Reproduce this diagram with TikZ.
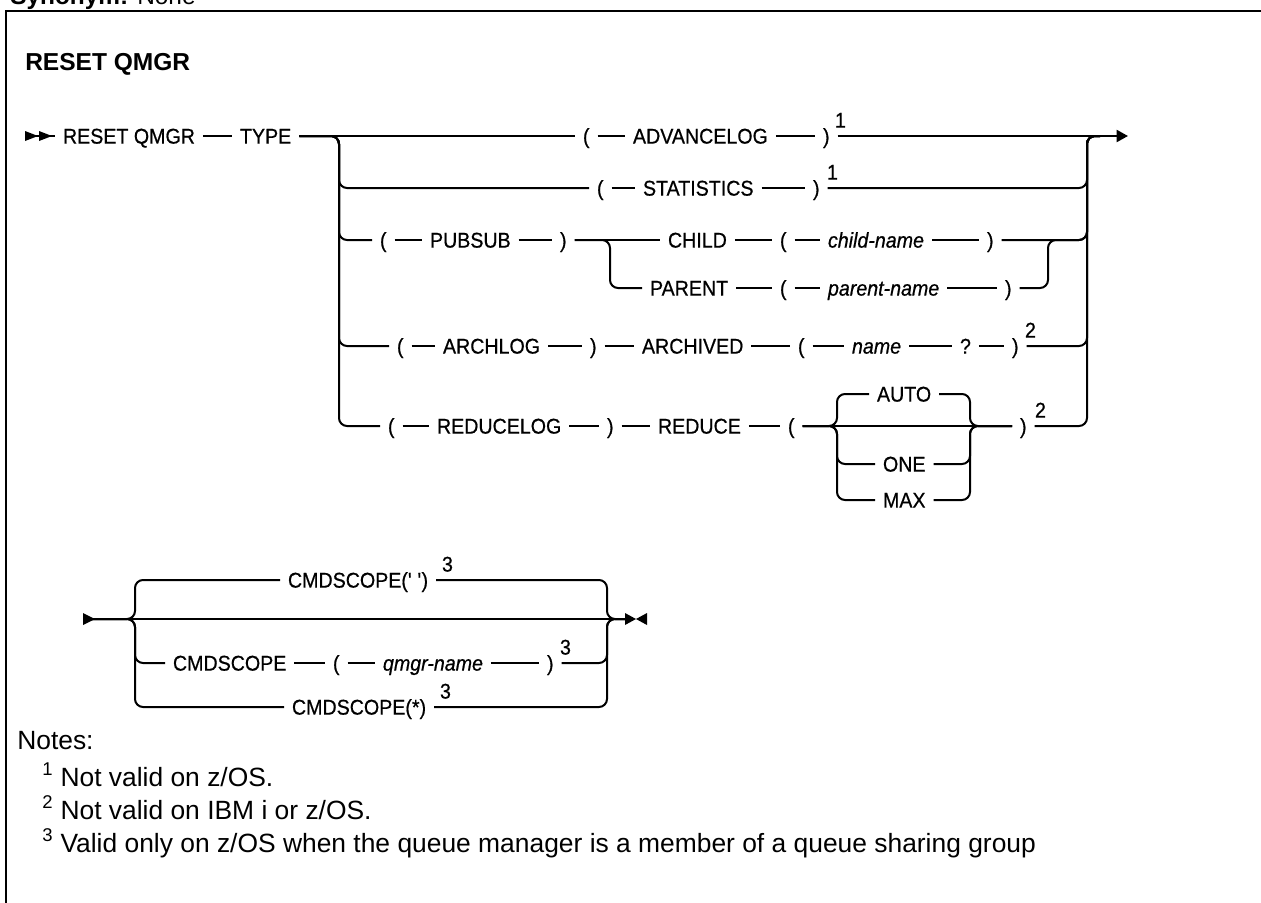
\documentclass[tikz,border=0pt]{standalone}
\usepackage{fontspec}
\setmainfont{Liberation Sans}
\newfontfamily\synfont[FakeStretch=0.92,FakeBold=0.6]{Liberation Sans}
\usetikzlibrary{arrows.meta}
\tikzset{
  syn/.style={font=\synfont\fontsize{16pt}{19pt}\selectfont, inner sep=0pt, outer xsep=6pt, text height=11.4pt, text depth=0pt, anchor=west, xshift=-6pt},
  ital/.style={syn, font=\synfont\fontsize{16pt}{19pt}\selectfont\itshape},
  supn/.style={syn, outer xsep=0pt, xshift=0pt},
  ttl/.style={font=\fontsize{18.4pt}{22pt}\selectfont\bfseries, inner sep=0pt, text height=13.2pt, text depth=0pt, anchor=west},
  note/.style={font=\fontsize{19.8pt}{23pt}\selectfont, inner sep=0pt, anchor=base west},
  rr/.style={line width=1.5pt, rounded corners=6pt},
  boxline/.style={line width=1.5pt},
  endtip/.style={-{Triangle[length=8.5pt,width=9pt]}},
}
\begin{document}
\begin{tikzpicture}[x=0.75pt,y=-0.75pt]
\useasboundingbox (0,0) rectangle (1261,903);
\clip (0,0) rectangle (1261,903);
\node[anchor=base west, inner sep=0pt, font=\fontsize{18.3pt}{22pt}\selectfont] (synonym) at (10,4) {\textbf{Synonym:} None};
\draw[boxline] (6,930) -- (6,11) -- (1290,11);

\node[ttl] (title) at (25,62) {RESET QMGR};

% ---------- main line ----------
\coordinate (s0) at (25,136);
\node[syn] (rq) at (63,136) {RESET QMGR};
\node[syn] (type) at (240,136) {TYPE};
\coordinate (jr) at (1100,136);
\coordinate (endA) at (1128,136);
\draw[rr] (s0) -- (rq.west);
\fill (25,131) -- (38,136) -- (25,141) -- cycle;
\fill (39,131) -- (52,136) -- (39,141) -- cycle;
\draw[rr] (rq) -- (type);

% row 1: ADVANCELOG
\node[syn] (lp1) at (583,136) {(};
\node[syn] (adv) at (633,136) {ADVANCELOG};
\node[syn] (rp1) at (823,136) {)};
\node[supn] (n1) at (843,120) {1};
\draw[rr] (type.east) -- (lp1.west);
\draw[rr] (lp1) -- (adv);
\draw[rr] (adv) -- (rp1);
\draw[rr,endtip] (rp1.east) -- (endA);

% row 2: STATISTICS
\node[syn] (lp2) at (597,188) {(};
\node[syn] (stat) at (643,188) {STATISTICS};
\node[syn] (rp2) at (813,188) {)};
\node[supn] (n2) at (835,172) {1};
\draw[rr] (type.east) -- (339,136) -- (339,188) -- (lp2.west);
\draw[rr] (lp2) -- (stat);
\draw[rr] (stat) -- (rp2);
\draw[rr] (rp2.east) -- (1087,188) -- (1087,136) -- (jr);

% row 3: PUBSUB
\node[syn] (lp3) at (380,240) {(};
\node[syn] (pub) at (430,240) {PUBSUB};
\node[syn] (rp3) at (560,240) {)};
\node[syn] (child) at (668,240) {CHILD};
\node[syn] (lp3c) at (780,240) {(};
\node[ital] (childn) at (828,240) {child-name};
\node[syn] (rp3c) at (987,240) {)};
\node[syn] (parent) at (650,288) {PARENT};
\node[syn] (lp3p) at (780,288) {(};
\node[ital] (parentn) at (828,288) {parent-name};
\node[syn] (rp3p) at (1005,288) {)};
\draw[rr] (type.east) -- (339,136) -- (339,240) -- (lp3.west);
\draw[rr] (lp3) -- (pub);
\draw[rr] (pub) -- (rp3);
\draw[rr] (rp3) -- (child);
\draw[rr] (child) -- (lp3c);
\draw[rr] (lp3c) -- (childn);
\draw[rr] (childn) -- (rp3c);
\draw[rr] (rp3c.east) -- (1087,240) -- (1087,136) -- (jr);
\draw[rr] (rp3.east) -- (610,240) -- (610,288) -- (parent.west);
\draw[rr] (parent) -- (lp3p);
\draw[rr] (lp3p) -- (parentn);
\draw[rr] (parentn) -- (rp3p);
\draw[rr] (rp3p.east) -- (1048,288) -- (1048,240) -- (1087,240) -- (1087,136) -- (jr);

% row 4: ARCHLOG
\node[syn] (lp4) at (397,346) {(};
\node[syn] (arch) at (443,346) {ARCHLOG};
\node[syn] (rp4) at (590,346) {)};
\node[syn] (archd) at (642,346) {ARCHIVED};
\node[syn] (lp4b) at (798,346) {(};
\node[ital] (nm) at (852,346) {name};
\node[syn] (qm) at (960,346) {?};
\node[syn] (rp4b) at (1012,346) {)};
\node[supn] (n4) at (1033,330) {2};
\draw[rr] (type.east) -- (339,136) -- (339,346) -- (lp4.west);
\draw[rr] (lp4) -- (arch);
\draw[rr] (arch) -- (rp4);
\draw[rr] (rp4) -- (archd);
\draw[rr] (archd) -- (lp4b);
\draw[rr] (lp4b) -- (nm);
\draw[rr] (nm) -- (qm);
\draw[rr] (qm) -- (rp4b);
\draw[rr] (rp4b.east) -- (1087,346) -- (1087,136) -- (jr);

% row 5: REDUCELOG
\node[syn] (lp5) at (388,426) {(};
\node[syn] (redl) at (437,426) {REDUCELOG};
\node[syn] (rp5) at (607,426) {)};
\node[syn] (red) at (658,426) {REDUCE};
\node[syn] (lp5b) at (788,426) {(};
\node[syn] (auto) at (877,394) {AUTO};
\node[syn] (one) at (883,464) {ONE};
\node[syn] (max) at (883,500) {MAX};
\node[syn] (rp5b) at (1020,426) {)};
\node[supn] (n5) at (1043,410) {2};
\draw[rr] (type.east) -- (339,136) -- (339,426) -- (lp5.west);
\draw[rr] (lp5) -- (redl);
\draw[rr] (redl) -- (rp5);
\draw[rr] (rp5) -- (red);
\draw[rr] (red) -- (lp5b);
\draw[rr] (lp5b.east) -- (rp5b.west);
\draw[rr] (lp5b.east) -- (837,426) -- (837,394) -- (auto.west);
\draw[rr] (auto.east) -- (970,394) -- (970,426) -- (rp5b.west);
\draw[rr] (lp5b.east) -- (837,426) -- (837,464) -- (one.west);
\draw[rr] (one.east) -- (970,464) -- (970,426) -- (rp5b.west);
\draw[rr] (lp5b.east) -- (837,426) -- (837,500) -- (max.west);
\draw[rr] (max.east) -- (970,500) -- (970,426) -- (rp5b.west);
\draw[rr] (rp5b.east) -- (1087,426) -- (1087,136) -- (jr);

% ---------- CMDSCOPE ----------
\coordinate (s1) at (83,619);
\coordinate (e1) at (625,619);
\fill (83,613) -- (95,619) -- (83,625) -- cycle;
\fill (625,613) -- (636,619) -- (625,625) -- cycle;
\fill (647,613) -- (636,619) -- (647,625) -- cycle;
\draw[rr] (s1) -- (e1);
\node[syn] (cs1) at (288,580) {CMDSCOPE(\textquotesingle{} \textquotesingle)};
\node[supn] (c1) at (450,564) {3};
\draw[rr] (s1) -- (135,619) -- (135,580) -- (cs1.west);
\draw[rr] (cs1.east) -- (607,580) -- (607,619) -- (e1);
\node[syn] (cs2) at (173,663) {CMDSCOPE};
\node[syn] (lpc) at (333,663) {(};
\node[ital] (qn) at (383,663) {qmgr-name};
\node[syn] (rpc) at (547,663) {)};
\node[supn] (c2) at (568,647) {3};
\draw[rr] (s1) -- (135,619) -- (135,663) -- (cs2.west);
\draw[rr] (cs2) -- (lpc);
\draw[rr] (lpc) -- (qn);
\draw[rr] (qn) -- (rpc);
\draw[rr] (rpc.east) -- (607,663) -- (607,619) -- (e1);
\node[syn] (cs3) at (292,707) {CMDSCOPE(*)};
\node[supn] (c3) at (448,691) {3};
\draw[rr] (s1) -- (135,619) -- (135,707) -- (cs3.west);
\draw[rr] (cs3.east) -- (607,707) -- (607,619) -- (e1);

% ---------- notes ----------
\node[note] (notes) at (17,749) {Notes:};
\node[note] (note1) at (42,786) {\textsuperscript{1} Not valid on z/OS.};
\node[note] (note2) at (42,819) {\textsuperscript{2} Not valid on IBM i or z/OS.};
\node[note] (note3) at (42,852) {\textsuperscript{3} Valid only on z/OS when the queue manager is a member of a queue sharing group};
\end{tikzpicture}
\end{document}
